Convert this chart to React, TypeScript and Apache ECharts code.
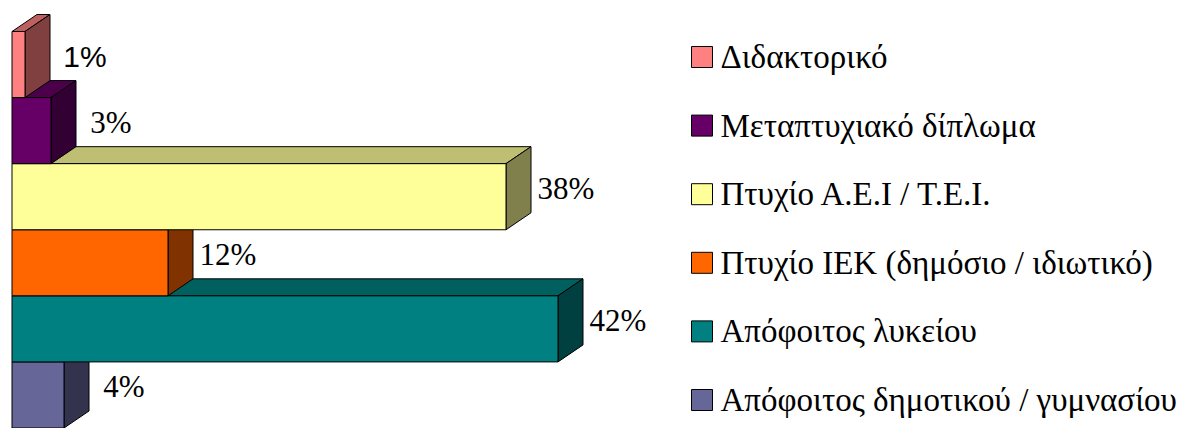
import React, { useEffect, useRef } from "react";
import * as echarts from "echarts";

// ---- DATA ----
const categories = [
  "Διδακτορικό",
  "Μεταπτυχιακό δίπλωμα",
  "Πτυχίο Α.Ε.Ι / Τ.Ε.Ι.",
  "Πτυχίο ΙΕΚ (δημόσιο / ιδιωτικό)",
  "Απόφοιτος λυκείου",
  "Απόφοιτος δημοτικού / γυμνασίου",
];
const values = [1, 3, 38, 12, 42, 4];
const valueLabels = ["1%", "3%", "38%", "12%", "42%", "4%"];

// ---- STYLE ----
const frontColors = ["#FF8080", "#660066", "#FFFF99", "#FF6600", "#008080", "#666699"];
const topColors = ["#BF6060", "#4C004C", "#BFBF73", "#BF4C00", "#006060", "#4C4C73"];
const sideColors = ["#804040", "#330033", "#80804D", "#803300", "#004040", "#33334D"];
const SANS = "Liberation Sans";
const SERIF = "Liberation Serif";
const labelFonts = [SANS, SERIF, SERIF, SERIF, SERIF, SERIF];
const labelSizes = [30, 31, 31, 31, 31, 31];

const DX = 25;
const DY = -17;

export default function App() {
  const ref = useRef<HTMLDivElement>(null);

  useEffect(() => {
    document.body.style.margin = "0";
    if (!ref.current) return;
    const chart = echarts.init(ref.current, undefined, { renderer: "svg" });

    const series = categories.map((name, i) => ({
      type: "custom",
      name,
      z: 10 + (categories.length - i),
      itemStyle: { color: frontColors[i] },
      data: [[values[i], i]],
      renderItem: (params: any, api: any) => {
        const v = api.value(0);
        const c = api.value(1);
        const start = api.coord([0, c]);
        const end = api.coord([v, c]);
        const bandH = api.size([0, 1])[1];
        const x0 = start[0];
        const x1 = end[0];
        const yT = end[1] - bandH / 2;
        const yB = end[1] + bandH / 2;
        const stroke = { stroke: "#000", lineWidth: 1 };
        return {
          type: "group",
          children: [
            {
              type: "polygon",
              shape: { points: [[x0, yT], [x1, yT], [x1 + DX, yT + DY], [x0 + DX, yT + DY]] },
              style: { fill: topColors[i], ...stroke },
            },
            {
              type: "polygon",
              shape: { points: [[x1, yT], [x1 + DX, yT + DY], [x1 + DX, yB + DY], [x1, yB]] },
              style: { fill: sideColors[i], ...stroke },
            },
            {
              type: "rect",
              shape: { x: x0, y: yT, width: x1 - x0, height: yB - yT },
              style: { fill: frontColors[i], ...stroke },
            },
            {
              type: "text",
              style: {
                text: valueLabels[i],
                x: x1 + DX + 35,
                y: (yT + DY + yB) / 2,
                align: "center",
                verticalAlign: "middle",
                fill: "#000",
                fontSize: labelSizes[i],
                fontFamily: labelFonts[i],
              },
            },
          ],
        };
      },
    }));

    chart.setOption({
      animation: false,
      tooltip: { show: false },
      grid: { left: 12, top: 31.5, width: 650, height: 402 },
      xAxis: { type: "value", min: 0, max: 50, show: false },
      yAxis: { type: "category", data: categories, inverse: true, show: false },
      legend: {
        orient: "vertical",
        left: 686,
        top: 34,
        itemWidth: 21,
        itemHeight: 21,
        itemGap: 32.6,
        selectedMode: false,
        icon: "rect",
        data: categories,
        itemStyle: { borderColor: "#000", borderWidth: 1 },
        textStyle: {
          fontFamily: SERIF,
          fontSize: 33,
          color: "#000",
          lineHeight: 36,
          padding: [0, 0, 0, 3],
        },
      },
      series,
    });

    return () => chart.dispose();
  }, []);

  return (
    <div
      ref={ref}
      style={{ width: 1184, height: 428, background: "#fff" }}
    />
  );
}
